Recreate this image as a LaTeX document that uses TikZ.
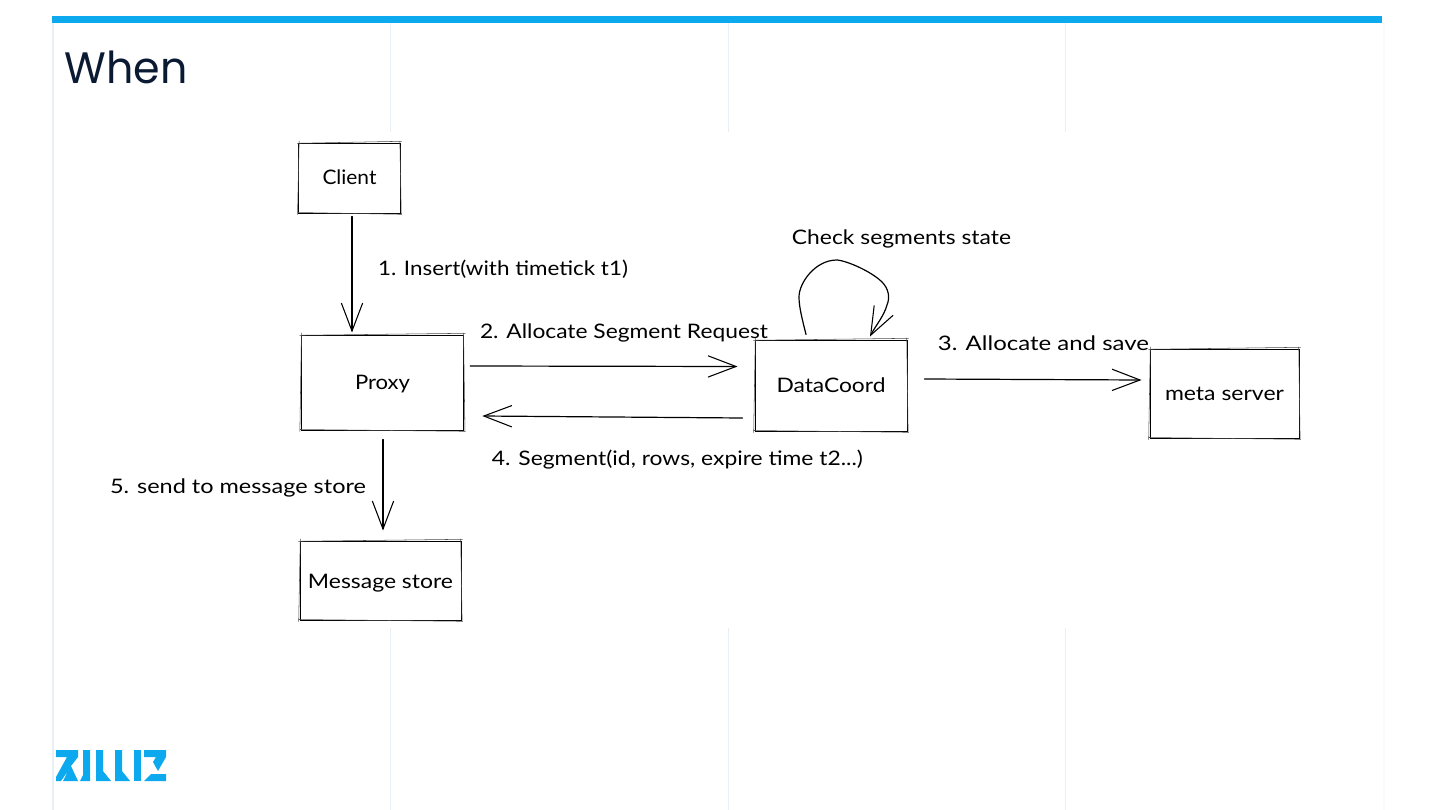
\documentclass[tikz,border=0pt]{standalone}
\usepackage{fontspec}
\usepackage{graphicx}
\usetikzlibrary{arrows.meta,calc}
\setmainfont{Lato}
\newfontfamily\titlefont{Poppins}
\newlength\pxu \setlength\pxu{0.75pt}
\newcommand\fitw[2]{\resizebox{#1\pxu}{\height}{#2}}
\newcommand\nudge[2]{\raisebox{#1}[\height][\depth]{#2}}
\definecolor{barblue}{HTML}{0CA9EE}
\definecolor{gridline}{HTML}{E8F0F6}
\definecolor{gridfaint}{HTML}{FAFBFC}
\definecolor{titleink}{HTML}{0B1A33}
\tikzset{
  x=0.75pt,y=-0.75pt,
  sk/.style={font=\fontsize{15}{18}\selectfont,text=black,inner sep=0pt},
  skbox/.style={sk,draw=black,line width=0.75pt,minimum width=#1},
  rough/.style={draw=black!70,line width=0.4pt,line cap=round},
  conn/.style={draw=black,line width=0.9pt,line cap=round,line join=round,
    -{Straight Barb[length=21pt,width=16pt,line width=0.8pt]}},
  grid/.style={draw=gridline,line width=1.1pt},
  logo/.style={fill=barblue,draw=none}
}
\newcommand\roughen[1]{%
  \draw[rough] ($(#1.north west)+(-1,0.8)$) -- ($(#1.north east)+(1,-1.2)$);
  \draw[rough] ($(#1.south west)+(-0.5,-1)$) -- ($(#1.south east)+(1,0.8)$);
  \draw[rough] ($(#1.north west)+(0.8,-1.5)$) -- ($(#1.south west)+(-0.8,1)$);
  \draw[rough] ($(#1.north east)+(-0.8,-1.5)$) -- ($(#1.south east)+(0.6,1)$);
}
\begin{document}
\begin{tikzpicture}
\useasboundingbox (0,0) rectangle (1440,810);
\fill[white] (0,0) rectangle (1440,810);
% slide grid
\draw[grid] (53,23) -- (53,810);
\foreach \gx in {390.5,728.5,1065.5}{
  \draw[grid] (\gx,23) -- (\gx,132);
  \draw[grid] (\gx,628) -- (\gx,810);
}
\draw[draw=gridfaint,line width=1pt] (1384,23) -- (1384,810);
\fill[barblue] (52,16) rectangle (1382,23);
% title
\node[inner sep=0pt,anchor=center,text=titleink,font=\titlefont\fontsize{33}{40}\selectfont] (title) at (126,67.5) {\fitw{123}{When}};
% boxes
\node[skbox=76pt,minimum height=52.5pt] (client) at (349.5,178) {\nudge{0.6pt}{\fitw{54}{Client}}};
\node[skbox=122pt,minimum height=71.25pt] (proxy) at (382.5,382.5) {\nudge{-0.8pt}{\fitw{55}{Proxy}}};
\node[skbox=114pt,minimum height=68.25pt] (datacoord) at (831,385.5) {\fitw{109}{DataCoord}};
\node[skbox=111.75pt,minimum height=66.75pt] (meta) at (1224.5,393.5) {\fitw{119}{meta server}};
\node[skbox=120.75pt,minimum height=59.25pt] (msg) at (380.5,580.5) {\nudge{-1.8pt}{\fitw{145}{Message store}}};
\roughen{client}\roughen{proxy}\roughen{datacoord}\roughen{meta}\roughen{msg}
% labels
\node[sk] (l1) at (503,269) {\fitw{250}{1. Insert(with timetick t1)}};
\node[sk] (l2) at (624,333) {\fitw{288}{2. Allocate Segment Request}};
\node[sk] (l0) at (901.5,239) {\fitw{219}{Check segments state}};
\node[sk] (l3) at (1043.5,343) {\fitw{211}{3. Allocate and save}};
\node[sk] (l4) at (677.5,460) {\fitw{371}{4. Segment(id, rows, expire time t2...)}};
\node[sk] (l5) at (238,488) {\fitw{256}{5. send to message store}};
% connectors
\draw[conn] ($(client.south)+(2.5,3)$) -- ($(proxy.north)+(-30.5,-2)$);
\draw[conn] ($(proxy.east)+(6,-16.5)$) -- ($(datacoord.west)+(-17,-19)$);
\draw[conn] ($(datacoord.west)+(-12,32.5)$) -- ($(proxy.east)+(18,33.5)$);
\draw[conn] ($(datacoord.east)+(17,-6.5)$) -- ($(meta.west)+(-8,-13.5)$);
\draw[conn] ($(proxy.south)+(0.5,9)$) -- ($(msg.north)+(2.5,-10)$);
\draw[conn] ($(datacoord.north)+(-25,-5)$) .. controls (803,322) and (799,308) .. (799,297)
  .. controls (799,283) and (815,260) .. (837,260)
  .. controls (848,261) and (872,272) .. (882,282)
  .. controls (889,289) and (890,298) .. (887,305)
  .. controls (884,316) and (876,325) .. ($(datacoord.north)+(39,-3)$);
% logo
\fill[logo] (56,750) -- (78,750) -- (78,757) -- (71,766) -- (78,781) -- (63,781) -- (68,771) -- (61,781) -- (56,781) -- (56,777) -- (67,757) -- (56,757) -- cycle;
\fill[logo] (83,750) -- (90,750) -- (90,781) -- (80,781) -- (83,775) -- cycle;
\fill[logo] (96,750) -- (103,750) -- (103,771) -- (111,781) -- (96,781) -- cycle;
\fill[logo] (115,750) -- (122,750) -- (122,771) -- (130,781) -- (115,781) -- cycle;
\fill[logo] (134,750) -- (141,750) -- (141,781) -- (134,781) -- cycle;
\fill[logo] (144,750) -- (166,750) -- (166,757) -- (158,771) -- (153,762) -- (156,757) -- (144,757) -- cycle;
\fill[logo] (151,774) -- (166,774) -- (166,781) -- (144,781) -- cycle;
\end{tikzpicture}
\end{document}
